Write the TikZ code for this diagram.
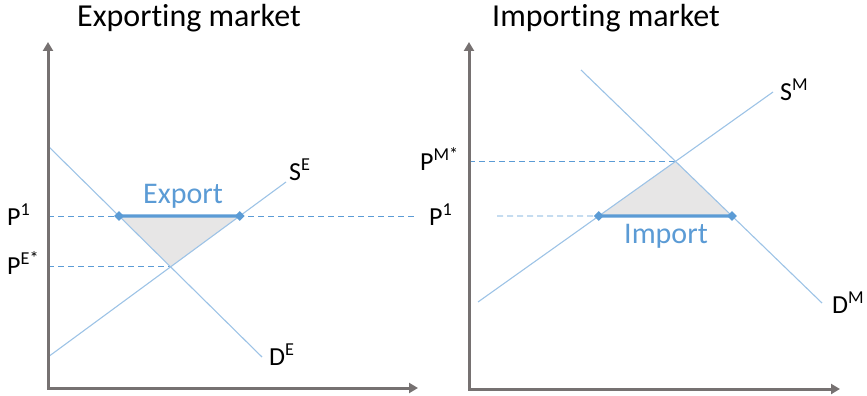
\documentclass[tikz,border=0pt]{standalone}
\usepackage{fontspec}
\setmainfont{Carlito}[Ligatures=NoCommon]
\usetikzlibrary{arrows.meta,shapes.geometric,intersections}
\definecolor{curveblue}{RGB}{157,195,230}
\definecolor{tradeblue}{RGB}{91,155,213}
\definecolor{axisgray}{RGB}{118,113,113}
\definecolor{areagray}{RGB}{231,230,230}
\begin{document}
\begin{tikzpicture}[x=1pt, y=-1pt,
    axis/.style={draw=axisgray, line width=3pt, {Triangle[width=10pt,length=9pt]}-{Triangle[width=10pt,length=9pt]}},
    curve/.style={draw=curveblue, line width=1.1pt},
    price line/.style={draw=tradeblue, line width=0.9pt, dash pattern=on 6pt off 4pt},
    trade/.style={draw=tradeblue, line width=3.2pt},
    dot/.style={diamond, fill=tradeblue, inner sep=0pt, minimum size=10pt},
    area/.style={fill=areagray},
    title/.style={font=\fontsize{32}{38}\selectfont, inner sep=0pt, anchor=base west},
    curve label/.style={font=\fontsize{26}{30}\selectfont, inner sep=0pt, anchor=base west},
    trade label/.style={font=\fontsize{30}{36}\selectfont, text=tradeblue, inner sep=0pt, anchor=base west}
]
    \useasboundingbox (0,0) rectangle (867,396);

    % Exporting market
    \node[title] (ex-title) at (77,27) {Exporting market};
    \coordinate (ex-o) at (48,388);
    \coordinate (ex-y) at (48,42);
    \coordinate (ex-x) at (418,388);
    \coordinate (ex-d1) at (48,146);
    \coordinate (ex-d2) at (262,357);
    \coordinate (ex-s1) at (48,357);
    \coordinate (ex-s2) at (286,182);
    \coordinate (ex-pl) at (48,216);
    \coordinate (ex-pr) at (415,216);
    \path[name path=ex-dline] (ex-d1) -- (ex-d2);
    \path[name path=ex-sline] (ex-s1) -- (ex-s2);
    \path[name path=ex-pline] (ex-pl) -- (ex-pr);
    \path[name intersections={of=ex-dline and ex-pline, by=ex-a}];
    \path[name intersections={of=ex-sline and ex-pline, by=ex-b}];
    \path[name intersections={of=ex-dline and ex-sline, by=ex-eq}];

    \fill[area] (ex-a) -- (ex-b) -- (ex-eq) -- cycle;
    \draw[price line] (ex-pl) -- (ex-pr);
    \draw[price line] (ex-eq -| ex-o) -- (ex-eq);
    \draw[curve] (ex-d1) -- (ex-d2);
    \draw[curve] (ex-s1) -- (ex-s2);
    \node[dot] (ex-dot-a) at (ex-a) {};
    \node[dot] (ex-dot-b) at (ex-b) {};
    \draw[trade] (ex-dot-a.center) -- (ex-dot-b.center);
    \draw[axis] (ex-y) -- (ex-o) -- (ex-x);

    \node[trade label] (ex-export) at (143,203) {Export};
    \node[curve label] (ex-p1) at (7,225) {P\textsuperscript{1}};
    \node[curve label] (ex-pstar) at (7,274) {P\textsuperscript{E*}};
    \node[curve label] (ex-slabel) at (289,180) {S\textsuperscript{E}};
    \node[curve label] (ex-dlabel) at (269,365) {D\textsuperscript{E}};

    % Importing market
    \node[title] (im-title) at (492,27) {Importing market};
    \coordinate (im-o) at (469,389);
    \coordinate (im-y) at (469,42);
    \coordinate (im-x) at (840,389);
    \coordinate (im-d1) at (581,70);
    \coordinate (im-d2) at (822,303);
    \coordinate (im-s1) at (478,302);
    \coordinate (im-s2) at (773,92);
    \coordinate (im-pl) at (497,216);
    \coordinate (im-pr) at (840,216);
    \path[name path=im-dline] (im-d1) -- (im-d2);
    \path[name path=im-sline] (im-s1) -- (im-s2);
    \path[name path=im-pline] (im-pl) -- (im-pr);
    \path[name intersections={of=im-sline and im-pline, by=im-a}];
    \path[name intersections={of=im-dline and im-pline, by=im-b}];
    \path[name intersections={of=im-dline and im-sline, by=im-eq}];

    \fill[area] (im-a) -- (im-b) -- (im-eq) -- cycle;
    \draw[price line] (im-pl) -- (im-a);
    \draw[price line] (im-eq -| im-o) -- (im-eq);
    \draw[curve] (im-d1) -- (im-d2);
    \draw[curve] (im-s1) -- (im-s2);
    \node[dot] (im-dot-a) at (im-a) {};
    \node[dot] (im-dot-b) at (im-b) {};
    \draw[trade] (im-dot-a.center) -- (im-dot-b.center);
    \draw[axis] (im-y) -- (im-o) -- (im-x);

    \node[trade label] (im-import) at (624,243) {Import};
    \node[curve label] (im-pstar) at (420,170) {P\textsuperscript{M*}};
    \node[curve label] (im-p1) at (429,225) {P\textsuperscript{1}};
    \node[curve label] (im-slabel) at (780,100) {S\textsuperscript{M}};
    \node[curve label] (im-dlabel) at (832,313) {D\textsuperscript{M}};
\end{tikzpicture}
\end{document}
